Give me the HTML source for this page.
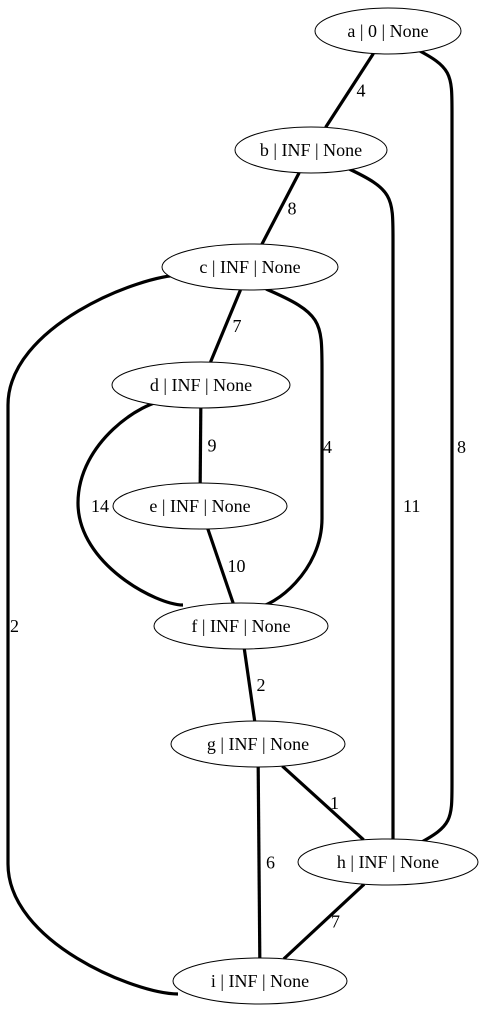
<!DOCTYPE html>
<html><head><meta charset="utf-8"><style>
html,body{margin:0;padding:0;background:#fff;width:484px;height:1011px;overflow:hidden}
svg text{font-family:"Liberation Serif","Times New Roman",serif;font-size:18px;fill:#000}
</style></head><body>
<svg id="g" width="484" height="1011" viewBox="0 0 484 1011" xmlns="http://www.w3.org/2000/svg" font-family="Liberation Serif, serif"></svg>
<script>
const nodeIds = ['a','b','c','d','e','f','g','h','i'];
const nodeLabels = ['a | 0 | None','b | INF | None','c | INF | None','d | INF | None','e | INF | None','f | INF | None','g | INF | None','h | INF | None','i | INF | None'];
const edgeFrom = ['a','a','b','b','c','c','c','d','d','e','f','g','g','h'];
const edgeTo   = ['b','h','c','h','d','f','i','e','f','f','g','h','i','i'];
const edgeWeights = [4,8,8,11,7,4,2,9,14,10,2,1,6,7];

// layout (positions/styles)
const pos = {a:[388,31,73],b:[311,150,76],c:[250,267,88],d:[201,385,89],e:[200,506,87],f:[241,626,87],g:[258,744,87],h:[388,862,90],i:[260,981,87]};
const RY = 23;
// curved edges: [bend x, start anchor, end anchor, label]
const bends = {
 'a-h':[452,[414,48],[418,844],[457,453]],
 'b-h':[393,[347,168],[393,839],[403,512]],
 'c-f':[322,[266,289],[257,607],[323,453]],
 'c-i':[8,[182,275],[178,994],[10,632]],
 'd-f':[78,[165,401],[183,605],[91,512]]
};
const NS='http://www.w3.org/2000/svg';
const svg=document.getElementById('g');
function mk(t,a){const e=document.createElementNS(NS,t);for(const k in a)e.setAttribute(k,a[k]);return e;}
function edgePt(n,tx,ty){const [cx,cy,rx]=pos[n];const dx=tx-cx,dy=ty-cy;const s=1/Math.sqrt((dx*dx)/(rx*rx)+(dy*dy)/(RY*RY));return [cx+dx*s,cy+dy*s];}
function curve(bx,p1,p2){
  const half=(p2[1]-p1[1])/2;
  const r1=Math.min(130,half,Math.abs(bx-p1[0])*0.9+30), r2=Math.min(130,half,Math.abs(bx-p2[0])*0.9+30);
  const c1x=p1[0]+(bx-p1[0])*0.25, c2x=p2[0]+(bx-p2[0])*0.25;
  const flat1=Math.abs(bx-p1[0])>60, flat2=Math.abs(bx-p2[0])>60;
  return `M${p1[0]},${p1[1]} C${flat1?c1x:bx},${flat1?p1[1]:p1[1]+r1*0.3} ${bx},${p1[1]+r1*0.4} ${bx},${p1[1]+r1} L${bx},${p2[1]-r2} C${bx},${p2[1]-r2*0.4} ${flat2?c2x:bx},${flat2?p2[1]:p2[1]-r2*0.3} ${p2[0]},${p2[1]}`;
}
for(let k=0;k<edgeFrom.length;k++){
  const u=edgeFrom[k],v=edgeTo[k],key=u+'-'+v;
  const [ux,uy]=pos[u],[vx,vy]=pos[v];
  let d,lx,ly;
  if(bends[key]){
    const b=bends[key];
    d=curve(b[0],b[1],b[2]);
    [lx,ly]=b[3];
  } else {
    const p1=edgePt(u,vx,vy),p2=edgePt(v,ux,uy);
    d=`M${p1[0]},${p1[1]} L${p2[0]},${p2[1]}`;
    lx=(ux+vx)/2+7; ly=(uy+vy)/2+6;
  }
  const path=mk('path',{d:d,fill:'none',stroke:'#000','stroke-width':3.2});
  
  
  svg.appendChild(path);
  const t=mk('text',{x:lx,y:ly});
  
  
  t.textContent=edgeWeights[k];
  svg.appendChild(t);
}
for(let k=0;k<nodeIds.length;k++){
  const [cx,cy,rx]=pos[nodeIds[k]];
  const el=mk('ellipse',{cx:cx,cy:cy,rx:rx,ry:RY,fill:'#fff',stroke:'#000','stroke-width':1});
  
  
  svg.appendChild(el);
  const t=mk('text',{x:cx,y:cy+6,'text-anchor':'middle'});
  
  
  t.textContent=nodeLabels[k];
  svg.appendChild(t);
}
</script>
</body></html>
